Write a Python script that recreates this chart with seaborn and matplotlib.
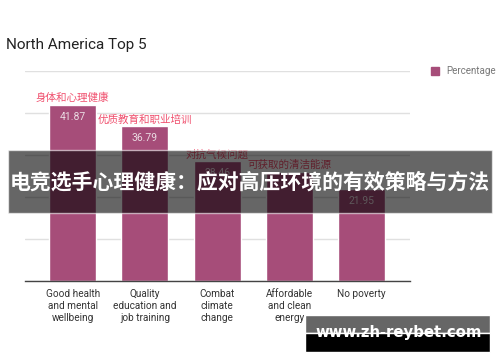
import pandas as pd
import matplotlib.pyplot as plt
from matplotlib.patches import Rectangle
import seaborn as sns

# data
goals = ['Good health\nand mental\nwellbeing', 'Quality\neducation and\njob training',
         'Combat\nclimate\nchange', 'Affordable\nand clean\nenergy', 'No poverty']
percentage = [41.87, 36.79, 28.46, 25.9, 21.95]
notes_cn = ['身体和心理健康', '优质教育和职业培训', '对抗气候问题', '可获取的清洁能源', '']
value_labels = ['41.87', '36.79', '28.46', '', '21.95']

BAR_COLOR = '#a64d79'
NOTE_COLOR = '#f0506e'

sns.set_theme(style='white')
plt.rcParams['font.family'] = ['Roboto', 'Noto Sans CJK SC', 'DejaVu Sans']

df = pd.DataFrame({'goal': goals, 'pct': percentage})

fig = plt.figure(figsize=(5.0, 3.62), dpi=100)
ax = fig.add_axes([0.05, 0.2238, 0.77, 0.58])

sns.barplot(data=df, x='goal', y='pct', color=BAR_COLOR, saturation=1,
            width=0.65, ax=ax, zorder=3)
ax.set_ylim(0, 50)
ax.set_xlim(-0.66, 4.67)
ax.set_yticks(range(0, 51, 10))
ax.set_yticklabels([])
ax.tick_params(axis='y', length=0)
ax.tick_params(axis='x', length=0, pad=6, labelsize=7.2, labelcolor='#333333')
ax.yaxis.grid(True, color='#e0e0e0', linewidth=1)
ax.set_xlabel('')
ax.set_ylabel('')
for s in ['left', 'right', 'top']:
    ax.spines[s].set_visible(False)
ax.spines['bottom'].set_color('#444444')
ax.spines['bottom'].set_linewidth(1)
ax.spines['bottom'].set_zorder(4)
for lbl in ax.get_xticklabels():
    lbl.set_linespacing(1.25)

# value labels inside bars and chinese notes above
for i, v in enumerate(percentage):
    if value_labels[i]:
        ax.text(i, v - 2.8, value_labels[i], ha='center', va='center',
                fontsize=7.5, color='#eadbe2', zorder=5)
    if notes_cn[i]:
        ax.text(i, v + 1.7, notes_cn[i], ha='center', va='center',
                fontsize=7.6, color=NOTE_COLOR, family=['Noto Sans CJK SC'], zorder=5)

fig.text(0.013, 0.875, 'North America Top 5', fontsize=11, color='#222222',
         ha='left', va='center')

handle = Rectangle((0, 0), 1, 1, color=BAR_COLOR)
fig.legend([handle], ['Percentage'], loc='center left', bbox_to_anchor=(0.845, 0.803),
           frameon=False, fontsize=7, handlelength=0.8, handleheight=0.8,
           handletextpad=0.7, labelcolor='#777777')

# dark banner with headline
fig.patches.append(Rectangle((8 / 500, 1 - 213 / 362), 484 / 500, 63 / 362,
                             transform=fig.transFigure, facecolor='black',
                             alpha=0.6, zorder=10))
fig.text(0.5, 1 - 182 / 362, '电竞选手心理健康：应对高压环境的有效策略与方法',
         ha='center', va='center', fontsize=15, color='white', fontweight='bold',
         family=['Noto Sans CJK SC'], zorder=11)

# watermark box
fig.patches.append(Rectangle((305 / 500, 1 - 333 / 362), 185 / 500, 18 / 362,
                             transform=fig.transFigure, facecolor='#666666', zorder=10))
fig.patches.append(Rectangle((305 / 500, 1 - 352 / 362), 185 / 500, 19 / 362,
                             transform=fig.transFigure, facecolor='black', zorder=10))
fig.text(399 / 500, 1 - 333 / 362, 'www.zh-reybet.com', ha='center', va='center',
         fontsize=10.7, color='white', fontweight='bold', family=['DejaVu Sans'], zorder=11)

fig.savefig('out.png', dpi=100)
